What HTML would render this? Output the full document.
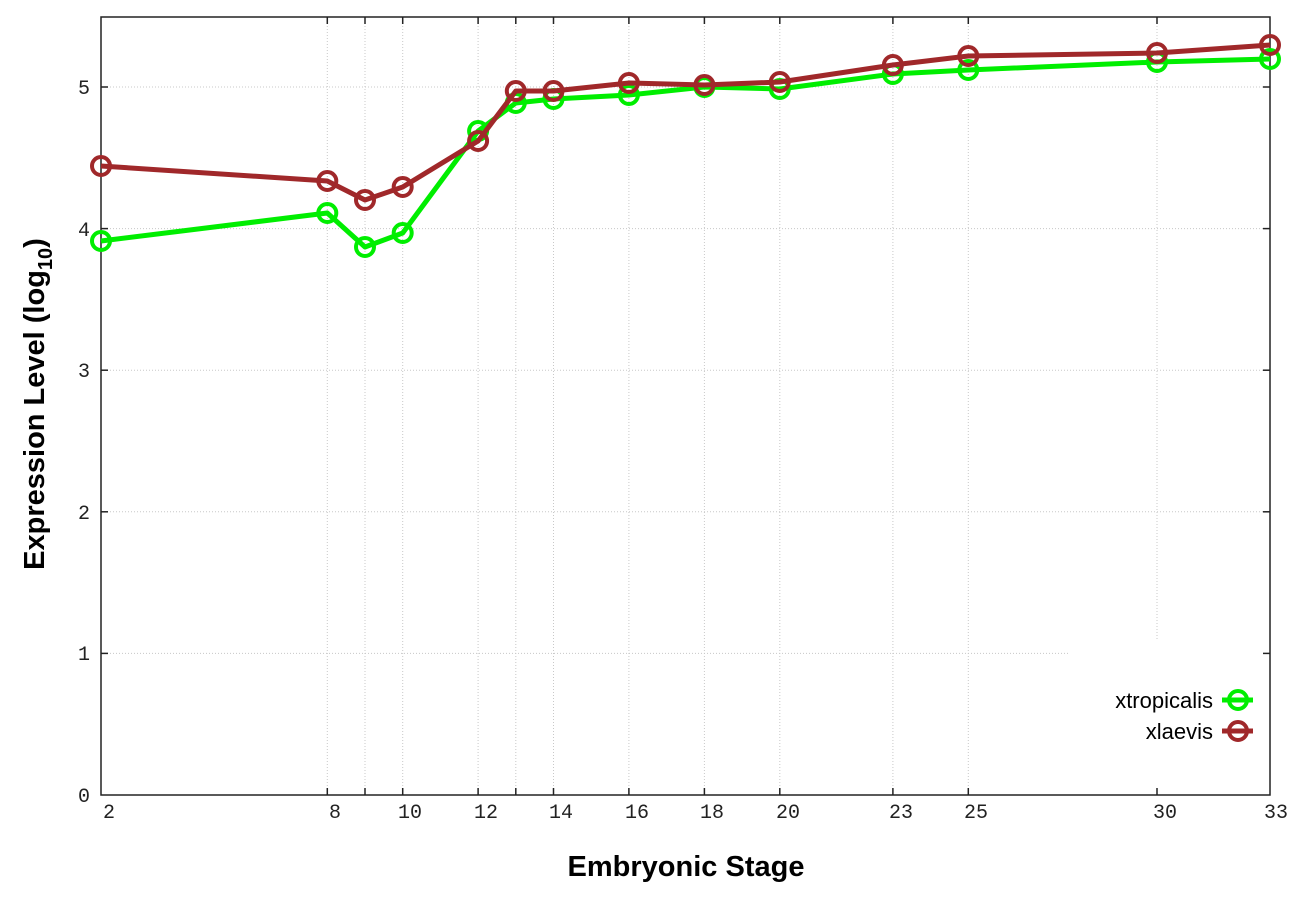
<!DOCTYPE html>
<html><head><meta charset="utf-8"><style>body{margin:0;background:#fff}svg{display:block}</style></head>
<body>
<svg width="1296" height="907" xmlns="http://www.w3.org/2000/svg">
<rect width="1296" height="907" fill="#fff"/>
<g stroke="#c8c8c8" stroke-width="1" stroke-dasharray="1,2">
<line x1="101" y1="653.4" x2="1070" y2="653.4"/>
<line x1="101" y1="511.8" x2="1270" y2="511.8"/>
<line x1="101" y1="370.2" x2="1270" y2="370.2"/>
<line x1="101" y1="228.6" x2="1270" y2="228.6"/>
<line x1="101" y1="87" x2="1270" y2="87"/>
<line x1="327.3" y1="17" x2="327.3" y2="795"/>
<line x1="365" y1="17" x2="365" y2="795"/>
<line x1="402.7" y1="17" x2="402.7" y2="795"/>
<line x1="478.1" y1="17" x2="478.1" y2="795"/>
<line x1="515.8" y1="17" x2="515.8" y2="795"/>
<line x1="553.5" y1="17" x2="553.5" y2="795"/>
<line x1="628.9" y1="17" x2="628.9" y2="795"/>
<line x1="704.4" y1="17" x2="704.4" y2="795"/>
<line x1="779.8" y1="17" x2="779.8" y2="795"/>
<line x1="892.9" y1="17" x2="892.9" y2="795"/>
<line x1="968.3" y1="17" x2="968.3" y2="795"/>
<line x1="1157" y1="17" x2="1157" y2="640"/>
</g>
<g stroke="#222" stroke-width="1.5">
<line x1="101" y1="653.4" x2="108" y2="653.4"/><line x1="1270" y1="653.4" x2="1263" y2="653.4"/>
<line x1="101" y1="511.8" x2="108" y2="511.8"/><line x1="1270" y1="511.8" x2="1263" y2="511.8"/>
<line x1="101" y1="370.2" x2="108" y2="370.2"/><line x1="1270" y1="370.2" x2="1263" y2="370.2"/>
<line x1="101" y1="228.6" x2="108" y2="228.6"/><line x1="1270" y1="228.6" x2="1263" y2="228.6"/>
<line x1="101" y1="87" x2="108" y2="87"/><line x1="1270" y1="87" x2="1263" y2="87"/>
<line x1="327.3" y1="795" x2="327.3" y2="788"/><line x1="327.3" y1="17" x2="327.3" y2="24"/>
<line x1="365" y1="795" x2="365" y2="788"/><line x1="365" y1="17" x2="365" y2="24"/>
<line x1="402.7" y1="795" x2="402.7" y2="788"/><line x1="402.7" y1="17" x2="402.7" y2="24"/>
<line x1="478.1" y1="795" x2="478.1" y2="788"/><line x1="478.1" y1="17" x2="478.1" y2="24"/>
<line x1="515.8" y1="795" x2="515.8" y2="788"/><line x1="515.8" y1="17" x2="515.8" y2="24"/>
<line x1="553.5" y1="795" x2="553.5" y2="788"/><line x1="553.5" y1="17" x2="553.5" y2="24"/>
<line x1="628.9" y1="795" x2="628.9" y2="788"/><line x1="628.9" y1="17" x2="628.9" y2="24"/>
<line x1="704.4" y1="795" x2="704.4" y2="788"/><line x1="704.4" y1="17" x2="704.4" y2="24"/>
<line x1="779.8" y1="795" x2="779.8" y2="788"/><line x1="779.8" y1="17" x2="779.8" y2="24"/>
<line x1="892.9" y1="795" x2="892.9" y2="788"/><line x1="892.9" y1="17" x2="892.9" y2="24"/>
<line x1="968.3" y1="795" x2="968.3" y2="788"/><line x1="968.3" y1="17" x2="968.3" y2="24"/>
<line x1="1157" y1="795" x2="1157" y2="788"/><line x1="1157" y1="17" x2="1157" y2="24"/>
</g>
<rect x="101" y="17" width="1169" height="778" fill="none" stroke="#222" stroke-width="1.5"/>
<g font-family="Liberation Mono, monospace" font-size="20" fill="#222" text-anchor="end">
<text x="90" y="802">0</text><text x="90" y="660">1</text><text x="90" y="519">2</text>
<text x="90" y="377">3</text><text x="90" y="236">4</text><text x="90" y="94">5</text>
</g>
<g font-family="Liberation Mono, monospace" font-size="20" fill="#222" text-anchor="middle">
<text x="109" y="818">2</text><text x="335" y="818">8</text><text x="410" y="818">10</text>
<text x="486" y="818">12</text><text x="561" y="818">14</text><text x="637" y="818">16</text>
<text x="712" y="818">18</text><text x="788" y="818">20</text><text x="901" y="818">23</text>
<text x="976" y="818">25</text><text x="1165" y="818">30</text><text x="1276" y="818">33</text>
</g>
<text x="686" y="876" font-family="Liberation Sans, sans-serif" font-weight="bold" font-size="29" text-anchor="middle">Embryonic Stage</text>
<text transform="translate(44,404) rotate(-90)" font-family="Liberation Sans, sans-serif" font-weight="bold" font-size="29" text-anchor="middle">Expression Level (log<tspan font-size="20" dy="8">10</tspan><tspan dy="-8">)</tspan></text>
<g fill="none" stroke-width="5" stroke-linejoin="round">
<polyline stroke="#00ee00" points="101,241 327.3,213 365,247 402.7,233 478.1,131 515.8,103 553.5,99 628.9,95 704.4,87 779.8,89 892.9,74 968.3,70 1157,62 1270,59"/>
<g stroke="#00ee00" stroke-width="4">
<circle cx="101" cy="241" r="9"/><circle cx="327.3" cy="213" r="9"/><circle cx="365" cy="247" r="9"/><circle cx="402.7" cy="233" r="9"/><circle cx="478.1" cy="131" r="9"/><circle cx="515.8" cy="103" r="9"/><circle cx="553.5" cy="99" r="9"/><circle cx="628.9" cy="95" r="9"/><circle cx="704.4" cy="87" r="9"/><circle cx="779.8" cy="89" r="9"/><circle cx="892.9" cy="74" r="9"/><circle cx="968.3" cy="70" r="9"/><circle cx="1157" cy="62" r="9"/><circle cx="1270" cy="59" r="9"/>
</g>
<polyline stroke="#a0282a" points="101,166 327.3,181 365,200 402.7,187 478.1,141 515.8,91 553.5,91 628.9,83 704.4,85 779.8,82 892.9,65 968.3,56 1157,53 1270,45"/>
<g stroke="#a0282a" stroke-width="4">
<circle cx="101" cy="166" r="9"/><circle cx="327.3" cy="181" r="9"/><circle cx="365" cy="200" r="9"/><circle cx="402.7" cy="187" r="9"/><circle cx="478.1" cy="141" r="9"/><circle cx="515.8" cy="91" r="9"/><circle cx="553.5" cy="91" r="9"/><circle cx="628.9" cy="83" r="9"/><circle cx="704.4" cy="85" r="9"/><circle cx="779.8" cy="82" r="9"/><circle cx="892.9" cy="65" r="9"/><circle cx="968.3" cy="56" r="9"/><circle cx="1157" cy="53" r="9"/><circle cx="1270" cy="45" r="9"/>
</g>
<line x1="1222" y1="700" x2="1253" y2="700" stroke="#00ee00"/>
<circle cx="1238" cy="700" r="9" stroke="#00ee00" stroke-width="4"/>
<line x1="1222" y1="731" x2="1253" y2="731" stroke="#a0282a"/>
<circle cx="1238" cy="731" r="9" stroke="#a0282a" stroke-width="4"/>
</g>
<g font-family="Liberation Sans, sans-serif" font-size="22" fill="#000" text-anchor="end">
<text x="1213" y="708">xtropicalis</text>
<text x="1213" y="739">xlaevis</text>
</g>
</svg>
</body></html>
